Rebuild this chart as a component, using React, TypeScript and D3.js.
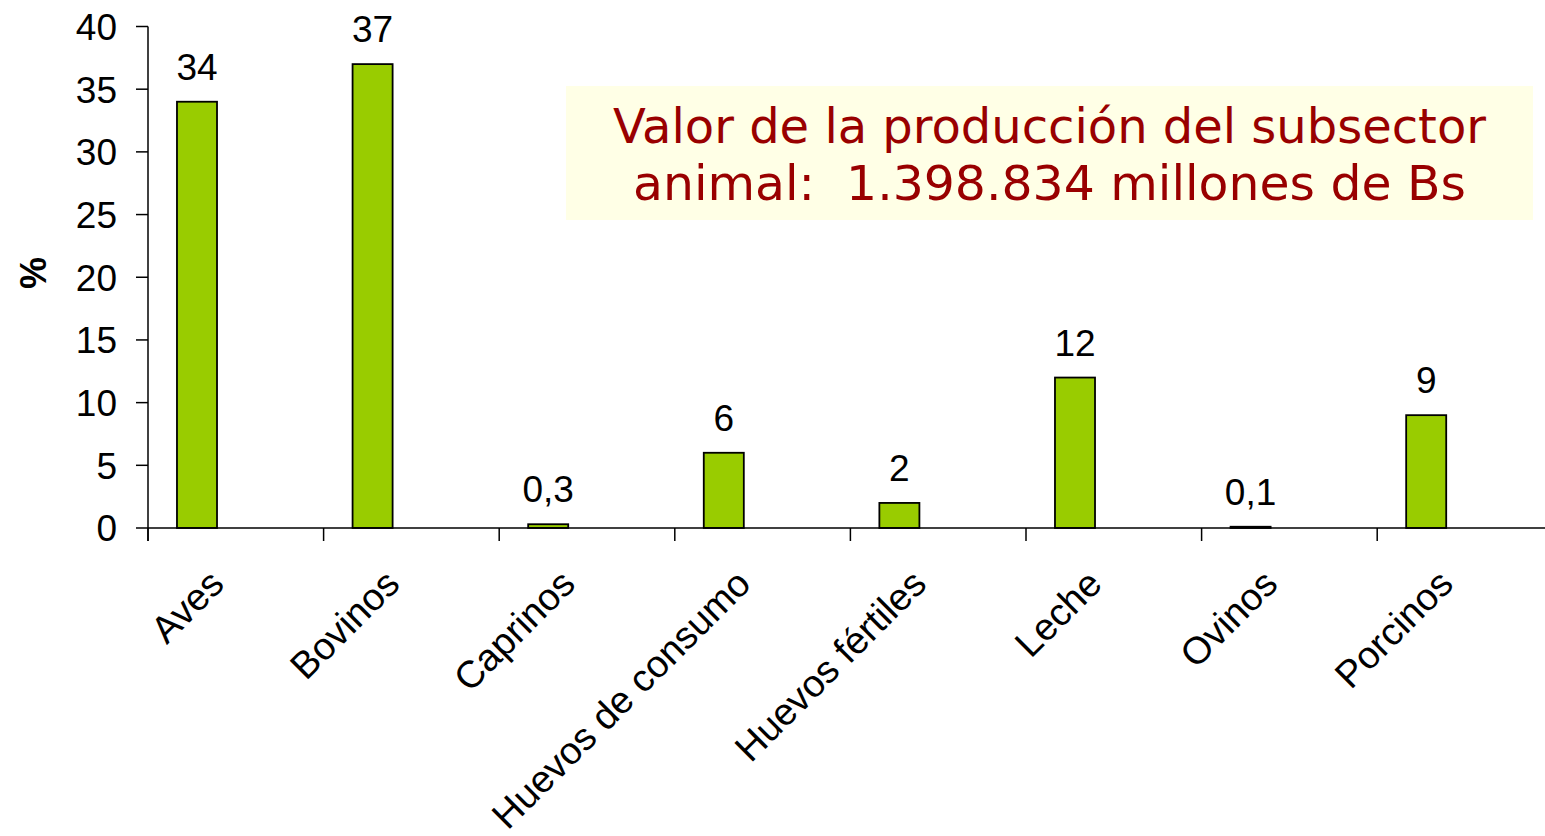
import React from 'react';
import * as d3 from 'd3';

const categories = ['Aves', 'Bovinos', 'Caprinos', 'Huevos de consumo', 'Huevos fértiles', 'Leche', 'Ovinos', 'Porcinos'];
const values = [34, 37, 0.3, 6, 2, 12, 0.1, 9];
const valueLabels = ['34', '37', '0,3', '6', '2', '12', '0,1', '9'];
const yTicks = [0, 5, 10, 15, 20, 25, 30, 35, 40];
const titleLines = ['Valor de la producción del subsector', 'animal:  1.398.834 millones de Bs'];

const W = 1545;
const H = 836;
const left = 148;
const top = 26.5;
const bottom = 528;
const step = 175.6;

const App = () => {
  const x = d3.scaleBand<string>()
    .domain(categories)
    .range([left, left + step * categories.length])
    .padding(0);

  const y = d3.scaleLinear()
    .domain([0, 40])
    .range([bottom, top]);

  const bw = x.bandwidth();
  const barOff = bw * 0.165;
  const barW = bw * 0.228;
  const font = 'Arial, "Liberation Sans", sans-serif';

  return (
    <svg width={W} height={H} style={{ position: 'absolute', left: 0, top: 0, background: '#fff' }}>
      {/* title box */}
      <rect x={566} y={86} width={967} height={134} fill="#FFFFE6" />
      {titleLines.map((t, i) => (
        <text key={t} x={1049.5} y={143 + i * 57} textAnchor="middle"
          fontFamily='Verdana, "DejaVu Sans", sans-serif' fontSize={48} fill="#990000"
          style={{ whiteSpace: 'pre' }}
          textLength={i === 0 ? 873 : 833} lengthAdjust="spacingAndGlyphs">
          {t}
        </text>
      ))}

      {/* bars */}
      {categories.map((c, i) => (
        <rect key={c}
          x={(x(c) as number) + barOff}
          y={y(values[i])}
          width={barW}
          height={Math.max(y(0) - y(values[i]), 0.5)}
          fill="#99CC00" stroke="#000" strokeWidth={1.8} />
      ))}

      {/* value labels */}
      {categories.map((c, i) => (
        <text key={c} x={(x(c) as number) + barOff + barW / 2} y={y(values[i]) - 22}
          textAnchor="middle" fontFamily={font} fontSize={37} fill="#000">
          {valueLabels[i]}
        </text>
      ))}

      {/* y axis */}
      <line x1={left} x2={left} y1={top} y2={bottom + 13} stroke="#000" strokeWidth={1.5} />
      {yTicks.map(t => (
        <g key={t}>
          <line x1={left - 12} x2={left} y1={y(t)} y2={y(t)} stroke="#000" strokeWidth={1.5} />
          <text x={117} y={y(t)} dy="0.36em" textAnchor="end" fontFamily={font} fontSize={37} fill="#000">{t}</text>
        </g>
      ))}
      <text transform={`translate(46,273) rotate(-90)`} textAnchor="middle" fontFamily={font}
        fontSize={36} fontWeight="bold" fill="#000">%</text>

      {/* x axis */}
      <line x1={left} x2={W} y1={bottom} y2={bottom} stroke="#000" strokeWidth={1.5} />
      {categories.map(c => (
        <line key={c} x1={x(c) as number} x2={x(c) as number} y1={bottom} y2={bottom + 13} stroke="#000" strokeWidth={1.5} />
      ))}
      {categories.map(c => {
        const cx = (x(c) as number) + barOff + barW / 2 + 29;
        return (
          <text key={c} transform={`translate(${cx},586) rotate(-45)`} textAnchor="end"
            fontFamily={font} fontSize={38} fill="#000">{c}</text>
        );
      })}
    </svg>
  );
};

export default App;
